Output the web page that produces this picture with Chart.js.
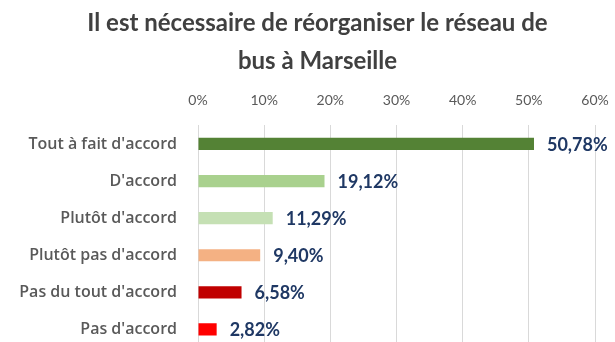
<!DOCTYPE html>
<html lang="fr">
<head>
<meta charset="utf-8">
<script src="https://cdn.jsdelivr.net/npm/chart.js@4.4.1/dist/chart.umd.min.js"></script>
<style>
    html, body { margin: 0; padding: 0; background: #ffffff; overflow: hidden; }
    canvas { display: block; }
</style>
</head>
<body>
<canvas id="chart" width="615" height="348"></canvas>
<script>
// Survey answers and their share of respondents (%)
const categories = [
    "Tout à fait d'accord",
    "D'accord",
    "Plutôt d'accord",
    "Plutôt pas d'accord",
    "Pas du tout d'accord",
    "Pas d'accord"
];
const shares = [50.78, 19.12, 11.29, 9.40, 6.58, 2.82];
const barColors = ['#548235', '#A9D18E', '#C5E0B4', '#F4B183', '#C00000', '#FF0000'];
const titleLines = ['Il est nécessaire de réorganiser le réseau de', 'bus à Marseille'];

const FONT = 'Lato, "Open Sans", sans-serif';
const LABEL_FONT = '"Open Sans", Lato, sans-serif';

// Format like 50,78%
function frPercent(v, digits) {
    return v.toFixed(digits).replace('.', ',') + '%';
}

// Draws the value next to the end of each bar
const valueLabels = {
    id: 'valueLabels',
    afterDatasetsDraw(chart) {
        const ctx = chart.ctx;
        const meta = chart.getDatasetMeta(0);
        ctx.save();
        ctx.font = 'bold 18px ' + FONT;
        ctx.fillStyle = '#1F3864';
        ctx.textAlign = 'left';
        ctx.textBaseline = 'middle';
        meta.data.forEach((bar, i) => {
            ctx.fillText(frPercent(shares[i], 2), bar.x + 13, bar.y + 1);
        });
        ctx.restore();
    }
};

new Chart(document.getElementById('chart'), {
    type: 'bar',
    data: {
        labels: categories,
        datasets: [{
            data: shares,
            backgroundColor: barColors,
            borderWidth: 0,
            categoryPercentage: 1,
            barPercentage: 0.33
        }]
    },
    options: {
        indexAxis: 'y',
        responsive: false,
        animation: false,
        layout: { padding: { left: 20, right: 0, top: 0, bottom: 0 } },
        plugins: {
            legend: { display: false },
            tooltip: { enabled: false },
            title: {
                display: true,
                text: titleLines,
                color: '#404040',
                font: { family: FONT, size: 24, weight: 'bold', lineHeight: 1.55 },
                padding: { top: 5, bottom: 0 }
            }
        },
        scales: {
            x: {
                position: 'top',
                min: 0,
                max: 60,
                ticks: {
                    stepSize: 10,
                    color: '#595959',
                    font: { family: FONT, size: 14 },
                    padding: 17,
                    callback: v => v + '%'
                },
                grid: { color: '#D9D9D9', drawTicks: false },
                border: { display: false },
                afterFit(scale) {
                    scale.height = 46;
                    scale.paddingLeft = 0;
                    scale.paddingRight = 20;
                }
            },
            y: {
                ticks: {
                    color: '#595959',
                    font: { family: LABEL_FONT, size: 16, weight: '600' },
                    padding: 21
                },
                grid: { display: false, drawTicks: false },
                border: { display: false },
                afterFit(scale) {
                    scale.width = 178;
                    scale.paddingTop = 0;
                    scale.paddingBottom = 0;
                }
            }
        }
    },
    plugins: [valueLabels]
});
</script>
</body>
</html>
